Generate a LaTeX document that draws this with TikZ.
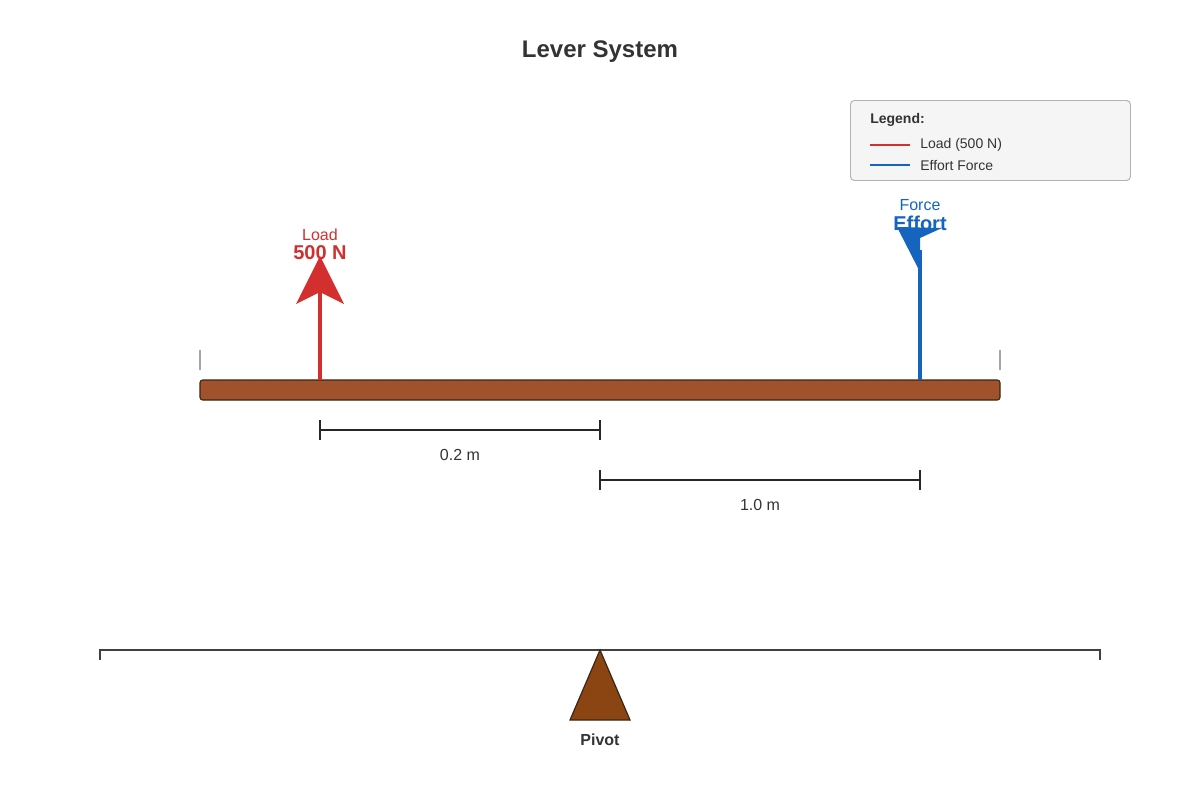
\documentclass[tikz,border=0pt]{standalone}
\usepackage{fontspec}
\setmainfont{Liberation Sans}
\begin{document}
\begin{tikzpicture}[x=0.75pt,y=-0.75pt,
  lbl/.style={inner sep=0pt,font=\fontsize{12}{14}\selectfont,text=black!80},
  dim/.style={draw=black!85,line width=0.9pt}]
\definecolor{red1}{HTML}{D32F2F}\definecolor{blue1}{HTML}{1565C0}
\definecolor{wood}{HTML}{A0522D}\definecolor{brn}{HTML}{8B4513}
\useasboundingbox (0,0) rectangle (1200,800);
\node[inner sep=0pt,font=\bfseries\fontsize{18}{20}\selectfont,text=black!80] (title) at (600,52) {Lever System};
% legend
\node[draw=black!30,fill=black!4,rounded corners=3pt,minimum width=210pt,minimum height=60pt,anchor=north west,line width=0.7pt] (leg) at (850,100) {};
\node[lbl,anchor=west,font=\bfseries\fontsize{10.5}{12}\selectfont] (lt) at (870,120) {Legend:};
\coordinate (l1a) at (870,145); \coordinate (l1b) at (910,145);
\coordinate (l2a) at (870,165); \coordinate (l2b) at (910,165);
\draw[red1,line width=2.2pt] (l1a)--(l1b);
\draw[blue1,line width=2.2pt] (l2a)--(l2b);
\node[lbl,anchor=west,font=\fontsize{10.5}{12}\selectfont] (lt1) at (920,145) {Load (500 N)};
\node[lbl,anchor=west,font=\fontsize{10.5}{12}\selectfont] (lt2) at (920,165) {Effort Force};
% beam
\node[draw=black!70!brown,fill=wood,rounded corners=2pt,minimum width=600pt,minimum height=15pt,inner sep=0pt,line width=0.8pt] (beam) at (600,390) {};
\coordinate (e1) at (200,350); \coordinate (e1b) at (200,370);
\coordinate (e2) at (1000,350); \coordinate (e2b) at (1000,370);
\draw[black!35,line width=0.8pt] (e1)--(e1b) (e2)--(e2b);
% load
\coordinate (lb) at (320,380); \coordinate (lt0) at (320,292);
\draw[red1,line width=3pt] (lb)--(lt0);
\fill[red1] (320,256)--(344,304)--(320,292)--(296,304)--cycle;
\node[lbl,text=red1] (loadl) at (320,235) {Load};
\node[lbl,text=red1,font=\bfseries\fontsize{15}{16}\selectfont] (loadv) at (320,253) {500 N};
% effort
\node[lbl,text=blue1] (ef) at (920,205) {Force};
\node[lbl,text=blue1,font=\bfseries\fontsize{15}{16}\selectfont] (ev) at (920,223) {Effort};
\coordinate (eb) at (920,380); \coordinate (et) at (920,250);
\draw[blue1,line width=3pt] (eb)--(et);
\fill[blue1] (897,227)--(942,228)--(920,238)--(920,272)--cycle;
% dimensions
\coordinate (d1a) at (320,430); \coordinate (d1b) at (600,430);
\draw[dim] (d1a)--(d1b) (320,420)--(320,440) (600,420)--(600,440);
\node[lbl] (d1) at (460,455) {0.2 m};
\coordinate (d2a) at (600,480); \coordinate (d2b) at (920,480);
\draw[dim] (d2a)--(d2b) (600,470)--(600,490) (920,470)--(920,490);
\node[lbl] (d2) at (760,505) {1.0 m};
% ground
\coordinate (g1) at (100,650); \coordinate (g2) at (1100,650);
\draw[black!75,line width=0.9pt] (100,660)--(g1)--(g2)--(1100,660);
\draw[fill=brn,draw=black!70!brown,line width=0.9pt] (600,650)--(630,720)--(570,720)--cycle;
\node[lbl,font=\bfseries\fontsize{12}{14}\selectfont] (piv) at (600,740) {Pivot};
\end{tikzpicture}
\end{document}
